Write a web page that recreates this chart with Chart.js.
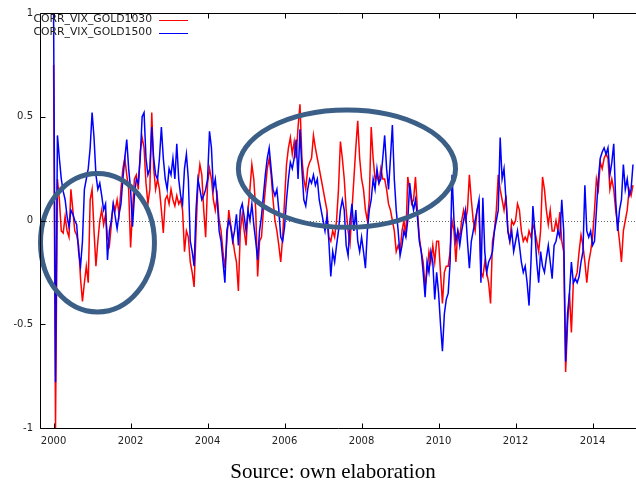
<!DOCTYPE html>
<html><head><meta charset="utf-8">
<script src="https://cdn.jsdelivr.net/npm/chart.js@4.4.0/dist/chart.umd.min.js"></script>
<style>html,body{margin:0;padding:0;background:#fff;} #wrap{position:relative;width:636px;height:485px;}</style>
</head><body><div id="wrap"><canvas id="c" width="636" height="485"></canvas></div>
<script>
const seriesNames = ['CORR_VIX_GOLD1030', 'CORR_VIX_GOLD1500'];
const startYear = 2000;
const stepYears = 0.05;

const gold1030 = [
 0.75,-1.0,0.2,0.1,-0.05,-0.06,0.02,-0.05,-0.08,0.15,
 0.05,-0.05,-0.07,-0.12,-0.28,-0.39,-0.3,-0.22,-0.3,0.1,
 0.15,-0.05,-0.22,-0.1,0.0,0.05,-0.02,0.03,-0.08,-0.12,
 -0.02,0.08,0.05,0.1,0.03,0.15,0.25,0.3,0.22,0.15,
 -0.13,0.05,0.2,0.22,0.15,0.33,0.4,0.35,0.18,0.08,
 0.15,0.52,0.25,0.15,0.2,0.15,0.05,-0.06,0.1,0.12,
 0.08,0.15,0.1,0.07,0.12,0.08,0.1,0.05,-0.15,-0.05,
 -0.08,-0.2,-0.25,-0.32,-0.05,0.18,0.27,0.22,0.05,-0.08,
 0.18,0.25,0.2,0.1,0.05,0.12,0.0,-0.05,-0.15,-0.23,
 -0.1,0.05,-0.02,-0.08,-0.15,-0.2,-0.34,-0.05,0.03,-0.05,
 -0.12,0.05,0.15,0.27,0.2,0.05,-0.27,-0.1,-0.08,0.05,
 0.15,0.25,0.3,0.22,0.1,0.0,-0.05,-0.12,-0.2,-0.08,
 0.1,0.27,0.35,0.4,0.32,0.38,0.3,0.45,0.56,0.3,
 0.2,0.15,0.25,0.28,0.3,0.41,0.35,0.3,0.25,0.2,
 0.15,0.1,0.05,-0.08,-0.1,-0.05,-0.08,0.0,0.15,0.38,
 0.3,0.2,0.05,-0.05,-0.11,0.05,0.2,0.35,0.48,0.3,
 0.2,0.15,0.05,0.0,0.1,0.45,0.3,0.2,0.22,0.18,
 0.25,0.2,0.2,0.15,0.08,0.05,0.0,-0.05,-0.15,-0.12,
 -0.15,-0.05,0.0,-0.08,0.21,0.15,0.08,0.1,0.21,0.05,
 -0.08,-0.15,-0.2,-0.32,-0.25,-0.15,-0.2,-0.12,-0.2,-0.1,
 -0.1,-0.25,-0.4,-0.25,-0.22,-0.22,-0.15,0.0,-0.05,-0.2,
 -0.05,-0.08,0.0,0.05,0.0,0.05,0.22,0.1,0.0,-0.05,
 0.05,0.08,-0.25,-0.27,-0.2,-0.25,-0.3,-0.4,-0.1,-0.05,
 0.05,0.22,0.15,0.1,0.05,0.12,-0.05,-0.1,0.0,-0.02,
 0.0,0.08,0.05,-0.05,-0.1,-0.08,-0.1,-0.05,-0.08,-0.02,
 -0.05,-0.1,-0.15,-0.05,0.21,0.15,0.05,-0.02,0.05,-0.05,
 -0.05,0.0,-0.05,0.04,-0.1,-0.15,-0.73,-0.5,-0.35,-0.54,
 -0.3,-0.28,-0.25,-0.15,-0.07,-0.12,-0.2,-0.3,-0.2,-0.15,
 -0.08,0.05,0.2,0.15,0.28,0.25,0.3,0.32,0.3,0.15,
 0.2,0.15,0.05,-0.02,-0.1,-0.2,-0.05,0.0,0.05,0.15,0.12,0.17
];

const gold1500 = [
 1.0,-0.78,0.41,0.3,0.2,0.14,0.1,0.02,-0.03,0.05,
 0.03,0.0,-0.02,-0.15,-0.22,-0.1,0.15,0.2,0.25,0.35,
 0.52,0.4,0.22,0.15,0.18,0.12,0.05,0.08,-0.19,-0.05,
 0.0,0.08,0.02,-0.04,0.03,0.08,0.2,0.3,0.39,0.25,
 0.15,-0.03,0.12,0.2,0.18,0.3,0.5,0.52,0.3,0.22,
 0.25,0.45,0.3,0.22,0.2,0.3,0.45,0.3,0.2,0.15,
 0.25,0.22,0.3,0.2,0.37,0.2,0.12,0.08,0.25,0.32,
 0.2,-0.1,-0.15,-0.22,0.05,0.2,0.15,0.1,0.12,0.15,
 0.2,0.43,0.35,0.15,0.2,0.1,-0.05,-0.1,-0.2,-0.3,
 -0.05,0.0,-0.03,-0.1,-0.05,0.03,-0.12,0.05,0.08,0.02,
 -0.05,0.05,0.0,0.08,-0.02,-0.1,-0.19,-0.05,0.02,0.12,
 0.22,0.3,0.35,0.25,0.15,0.12,0.15,0.05,-0.08,-0.1,
 -0.03,0.1,0.2,0.28,0.25,0.3,0.39,0.2,0.44,0.25,
 0.1,0.07,0.15,0.2,0.18,0.22,0.17,0.2,0.1,0.05,
 0.0,-0.05,0.02,-0.1,-0.27,-0.15,-0.2,-0.12,-0.05,0.05,
 0.1,0.05,-0.12,-0.17,0.0,0.08,-0.05,0.05,-0.1,-0.15,
 -0.08,-0.15,-0.23,-0.05,0.05,0.1,0.2,0.15,0.25,0.18,
 0.2,0.3,0.41,0.25,0.15,0.3,0.46,0.2,0.05,-0.05,
 -0.17,-0.12,-0.05,-0.08,0.0,0.18,0.1,0.05,0.1,0.02,
 -0.1,-0.15,-0.25,-0.37,-0.2,-0.25,-0.15,-0.2,-0.38,-0.25,
 -0.35,-0.5,-0.63,-0.45,-0.38,-0.35,-0.2,0.22,0.0,-0.1,
 -0.05,-0.12,-0.05,0.0,0.05,-0.1,-0.23,-0.1,-0.05,0.0,
 0.05,0.1,-0.3,0.11,-0.15,-0.25,-0.2,-0.18,-0.15,-0.05,
 0.0,0.05,0.4,0.2,0.25,0.1,-0.05,-0.1,-0.05,-0.15,
 -0.1,-0.05,-0.12,-0.2,-0.25,-0.22,-0.3,-0.41,-0.2,0.07,
 -0.05,-0.2,-0.3,-0.15,-0.22,-0.25,-0.18,-0.12,-0.2,-0.28,
 -0.12,-0.1,-0.05,-0.08,0.1,-0.05,-0.68,-0.45,-0.35,-0.2,
 -0.3,-0.28,-0.3,-0.27,-0.2,-0.15,0.17,-0.05,-0.08,-0.05,
 -0.12,-0.1,0.05,0.2,0.3,0.33,0.35,0.32,0.35,0.22,
 0.28,0.37,0.1,-0.05,0.05,0.1,0.27,0.15,0.2,0.12,0.15,0.27
];

const xTickYears = [2000, 2002, 2004, 2006, 2008, 2010, 2012, 2014];
const yTickValues = [-1, -0.5, 0, 0.5, 1];
const yTickLabels = ['-1', '-0.5', '0', '0.5', '1'];
const sourceNote = 'Source: own elaboration';

// highlighted regions (data units): centre year, centre value, half-width in years, half-height in value
const highlightRegions = [
  { year: 2001.14, value: -0.107, halfYears: 1.48, halfValue: 0.334 },
  { year: 2007.62, value: 0.25, halfYears: 2.82, halfValue: 0.283 }
];

const dates = gold1030.map((_, i) => +(startYear + i * stepYears).toFixed(2));
const toPoints = arr => arr.map((v, i) => ({ x: dates[i], y: v }));

const LEGEND_FONT = '10.8px "DejaVu Sans"';

const decorPlugin = {
  id: 'decor',
  beforeDatasetsDraw(chart) {
    const { ctx, chartArea: a, scales: { y } } = chart;
    const y0 = Math.round(y.getPixelForValue(0)) + 0.5;
    ctx.save();
    ctx.strokeStyle = '#666';
    ctx.lineWidth = 1;
    ctx.setLineDash([1, 2]);
    ctx.beginPath(); ctx.moveTo(a.left, y0); ctx.lineTo(a.right, y0); ctx.stroke();
    ctx.restore();
  },
  afterDatasetsDraw(chart) {
    const { ctx, chartArea: a, scales: { x, y } } = chart;
    ctx.save();
    ctx.strokeStyle = '#3c5f88';
    ctx.lineWidth = 5;
    highlightRegions.forEach(r => {
      const cx = x.getPixelForValue(r.year), cy = y.getPixelForValue(r.value);
      const rx = Math.abs(x.getPixelForValue(r.year + r.halfYears) - cx);
      const ry = Math.abs(y.getPixelForValue(r.value + r.halfValue) - cy);
      ctx.beginPath(); ctx.ellipse(cx, cy, rx, ry, 0, 0, Math.PI * 2); ctx.stroke();
    });
    ctx.strokeStyle = '#000';
    ctx.lineWidth = 1;
    const L = Math.round(a.left) + 0.5, T = Math.round(a.top) + 0.5, B = Math.round(a.bottom) + 0.5;
    ctx.beginPath();
    ctx.moveTo(a.right + 2, T); ctx.lineTo(L, T); ctx.lineTo(L, B); ctx.lineTo(a.right + 2, B);
    ctx.stroke();
    ctx.beginPath();
    xTickYears.forEach(v => {
      const px = Math.round(x.getPixelForValue(v)) + 0.5;
      ctx.moveTo(px, B); ctx.lineTo(px, B - 5);
      ctx.moveTo(px, T); ctx.lineTo(px, T + 5);
    });
    yTickValues.forEach(v => {
      const py = Math.round(y.getPixelForValue(v)) + 0.5;
      ctx.moveTo(L, py); ctx.lineTo(L + 5, py);
    });
    ctx.stroke();
    ctx.font = LEGEND_FONT;
    ctx.textAlign = 'right';
    ctx.textBaseline = 'middle';
    chart.data.datasets.forEach((ds, i) => {
      const ly = 19.5 + i * 13;
      ctx.fillStyle = '#222';
      ctx.fillText(ds.label, 152, ly);
      ctx.strokeStyle = ds.borderColor;
      ctx.lineWidth = 1;
      ctx.beginPath(); ctx.moveTo(159, Math.round(ly) + 0.5); ctx.lineTo(188, Math.round(ly) + 0.5); ctx.stroke();
    });
    ctx.restore();
  },
  afterDraw(chart) {
    const { ctx } = chart;
    ctx.save();
    ctx.font = '21px "Liberation Serif"';
    ctx.fillStyle = '#000';
    ctx.textAlign = 'center';
    ctx.textBaseline = 'alphabetic';
    ctx.fillText(sourceNote, 333, 478);
    ctx.restore();
  }
};

new Chart(document.getElementById('c'), {
  type: 'line',
  data: {
    datasets: [
      { label: seriesNames[0], data: toPoints(gold1030), borderColor: '#ff0000', borderWidth: 1.5, pointRadius: 0, tension: 0, order: 2 },
      { label: seriesNames[1], data: toPoints(gold1500), borderColor: '#0000ff', borderWidth: 1.5, pointRadius: 0, tension: 0, order: 1 }
    ]
  },
  options: {
    responsive: false,
    animation: false,
    events: [],
    layout: { padding: { top: 9, left: 0, right: 0, bottom: 0 } },
    plugins: { legend: { display: false }, tooltip: { enabled: false } },
    scales: {
      x: {
        type: 'linear',
        min: 1999.647,
        max: 2015.128,
        afterBuildTicks: s => { s.ticks = xTickYears.map(v => ({ value: v })); },
        afterFit: s => { s.height = 57; },
        grid: { display: false, drawTicks: false },
        border: { display: false },
        ticks: { font: { family: 'DejaVu Sans', size: 10 }, color: '#222', padding: 7, maxRotation: 0, autoSkip: false,
                 callback: v => String(v) }
      },
      y: {
        type: 'linear',
        min: -1,
        max: 1,
        afterBuildTicks: s => { s.ticks = yTickValues.map(v => ({ value: v })); },
        afterFit: s => { s.width = 40; },
        grid: { display: false, drawTicks: false },
        border: { display: false },
        ticks: { font: { family: 'DejaVu Sans', size: 10 }, color: '#222', padding: 7, autoSkip: false,
                 callback: (v) => yTickLabels[yTickValues.indexOf(v)] }
      }
    }
  },
  plugins: [decorPlugin]
});
</script>
</body></html>
